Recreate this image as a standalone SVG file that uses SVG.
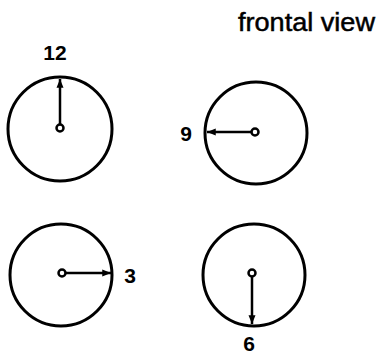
<svg xmlns="http://www.w3.org/2000/svg" width="382" height="356" viewBox="0 0 382 356">
<defs>
<style>
.rim{fill:none;stroke:#000;stroke-width:3}
.hub{fill:#fff;stroke:#000;stroke-width:2.5}
.hand{stroke:#000;stroke-width:2.5;fill:none}
.lbl{font-family:"Liberation Sans",Arial,sans-serif;font-weight:bold;font-size:21px;fill:#000}
.title{font-family:"Liberation Sans",Arial,sans-serif;font-size:26px;fill:#000;stroke:#000;stroke-width:0.5}
</style>
<marker id="ah" viewBox="0 0 10 10" refX="10" refY="5" markerWidth="3.5" markerHeight="3.5" orient="auto" markerUnits="strokeWidth">
<path d="M0,1 L10,5 L0,9 z" fill="#000"/>
</marker>
</defs>
<text class="title" x="238" y="31" textLength="137" lengthAdjust="spacingAndGlyphs">frontal view</text>
<g id="clock12">
<circle class="rim" cx="60" cy="129" r="52"/>
<text class="lbl" x="55" y="60" text-anchor="middle">12</text>
</g>
<g id="clock9">
<circle class="rim" cx="256" cy="133" r="51"/>
<text class="lbl" x="186" y="141" text-anchor="middle">9</text>
</g>
<g id="clock3">
<circle class="rim" cx="61" cy="275" r="51"/>
<text class="lbl" x="130" y="283" text-anchor="middle">3</text>
</g>
<g id="clock6">
<circle class="rim" cx="254" cy="275" r="51"/>
<text class="lbl" x="249" y="351" text-anchor="middle">6</text>
</g>
<g id="connectors">
<line class="hand" x1="60" y1="125" x2="60" y2="79" marker-end="url(#ah)"/>
<line class="hand" x1="252" y1="132" x2="207" y2="132" marker-end="url(#ah)"/>
<line class="hand" x1="65" y1="273" x2="111" y2="273" marker-end="url(#ah)"/>
<line class="hand" x1="252" y1="277" x2="252" y2="324" marker-end="url(#ah)"/>
<circle class="hub" cx="60" cy="128" r="3.5"/>
<circle class="hub" cx="255" cy="132" r="3.5"/>
<circle class="hub" cx="62" cy="273" r="3.5"/>
<circle class="hub" cx="252" cy="273" r="3.5"/>
</g>
</svg>
